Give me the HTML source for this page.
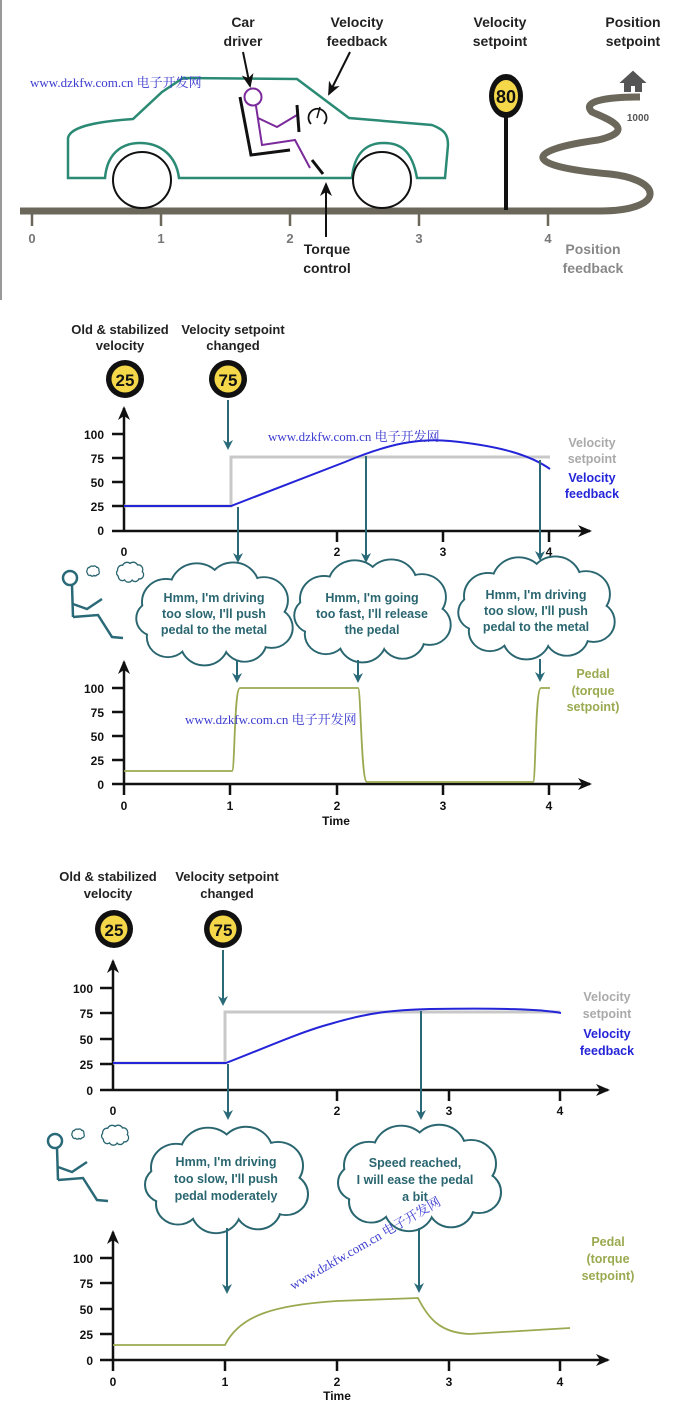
<!DOCTYPE html>
<html><head><meta charset="utf-8"><style>
html,body{margin:0;padding:0;background:#fff}
svg{display:block}
text{font-family:"Liberation Sans","Noto Sans CJK SC",sans-serif}
.lb{font-size:14px;font-weight:bold;fill:#222;text-anchor:middle}
.tk{font-size:12px;font-weight:bold;fill:#111;text-anchor:middle}
.yt{font-size:12px;font-weight:bold;fill:#111;text-anchor:end}
.ct{font-size:12.5px;font-weight:bold;fill:#2a6670;text-anchor:middle}
.wm{font-family:"Liberation Serif","Noto Serif CJK SC",serif;font-size:13px;fill:#3b3bd0}
</style></head><body>
<svg width="680" height="1407" viewBox="0 0 680 1407" xmlns="http://www.w3.org/2000/svg">
<defs>
<marker id="ah" markerWidth="10" markerHeight="10" refX="8" refY="5" orient="auto" markerUnits="userSpaceOnUse"><path d="M0,0 L10,5 L0,10 L3,5 Z" fill="#2a6a78"/></marker>
<marker id="ak" markerWidth="14" markerHeight="12" refX="12" refY="6" orient="auto" markerUnits="userSpaceOnUse"><path d="M0,0 L14,6 L0,12 L4,6 Z" fill="#111"/></marker>
<g id="cb">
<circle cx="-50" cy="-12" r="24"/><circle cx="-18" cy="-26" r="27"/><circle cx="20" cy="-28" r="26"/><circle cx="52" cy="-14" r="24"/><circle cx="60" cy="16" r="21"/><circle cx="32" cy="30" r="22"/><circle cx="-10" cy="32" r="24"/><circle cx="-48" cy="26" r="21"/><circle cx="-62" cy="6" r="18"/><ellipse cx="0" cy="2" rx="60" ry="30"/>
</g>
<g id="cloud"><use href="#cb" fill="none" stroke="#2a6670" stroke-width="4"/><use href="#cb" fill="#fff" stroke="none"/></g>
<g id="cloudA"><use href="#cb" fill="none" stroke="#2a6670" stroke-width="36"/><use href="#cb" fill="#fff" stroke="none"/></g>
<g id="cloudB"><use href="#cb" fill="none" stroke="#2a6670" stroke-width="16"/><use href="#cb" fill="#fff" stroke="none"/></g>
<g id="man">
<g fill="none" stroke="#2a6a78" stroke-width="2.5">
<circle cx="0" cy="0" r="7"/><path d="M2,7 L3,39 M3,26 L17,31 L32,21 M3,39 L28,37 L42,59 L53,60"/>
</g>
<use href="#cloudA" transform="translate(23,-7) scale(0.07,0.08)"/>
<use href="#cloudB" transform="translate(60,-6) scale(0.16,0.17)"/>
</g>
</defs>
<rect x="0" y="0" width="2" height="300" fill="#999"/>

<!-- TOP -->
<text class="lb" x="243" y="27">Car</text><text class="lb" x="243" y="46">driver</text>
<text class="lb" x="357" y="27">Velocity</text><text class="lb" x="357" y="46">feedback</text>
<text class="lb" x="500" y="27">Velocity</text><text class="lb" x="500" y="46">setpoint</text>
<text class="lb" x="633" y="27">Position</text><text class="lb" x="633" y="46">setpoint</text>
<path d="M20,211 L600,211 C665,211 665,180 610,174 C520,166 525,150 598,140 C640,130 605,118 592,112 C580,100 612,97 640,97" fill="none" stroke="#6b675a" stroke-width="7"/>
<g stroke="#6b675a" stroke-width="2.5"><line x1="32" y1="212" x2="32" y2="226"/><line x1="161" y1="212" x2="161" y2="226"/><line x1="290" y1="212" x2="290" y2="226"/><line x1="419" y1="212" x2="419" y2="226"/><line x1="548" y1="212" x2="548" y2="226"/></g>
<g class="tk" style="fill:#777;font-size:13px"><text x="32" y="243">0</text><text x="161" y="243">1</text><text x="290" y="243">2</text><text x="419" y="243">3</text><text x="548" y="243">4</text></g>
<path d="M68,178 L68,138 C70,128 90,122 133,119 L162,92 L183,78 L297,79 L349,118 L432,125 C445,130 448,135 448,145 L445,178 L417,178 C412,150 400,143 384,143 C365,143 354,155 352,178 L179,178 C176,155 160,143 140,143 C120,143 107,155 105,178 Z" fill="none" stroke="#2a8a74" stroke-width="2.5"/>
<ellipse cx="142" cy="180" rx="29" ry="28" fill="#fff" stroke="#111" stroke-width="2"/>
<ellipse cx="382" cy="180" rx="29" ry="28" fill="#fff" stroke="#111" stroke-width="2"/>
<path d="M240,97 L251,155 L290,150" fill="none" stroke="#111" stroke-width="3"/>
<circle cx="253" cy="97" r="8.5" fill="none" stroke="#7a2a9a" stroke-width="2"/>
<path d="M256,106 L262,145 L295,140 L310,168 M258,118 L277,127 L297,115" fill="none" stroke="#7a2a9a" stroke-width="2"/>
<line x1="297" y1="105" x2="299" y2="132" stroke="#111" stroke-width="3"/>
<line x1="312" y1="160" x2="323" y2="174" stroke="#111" stroke-width="3"/>
<path d="M311,124 A9,9 0 1 1 324,124" fill="none" stroke="#111" stroke-width="1.8"/>
<line x1="317" y1="118" x2="320" y2="107" stroke="#111" stroke-width="1.5"/>
<line x1="243" y1="52" x2="250" y2="86" stroke="#111" stroke-width="2" marker-end="url(#ak)"/>
<line x1="350" y1="52" x2="329" y2="94" stroke="#111" stroke-width="2" marker-end="url(#ak)"/>
<line x1="326" y1="237" x2="326" y2="184" stroke="#111" stroke-width="2" marker-end="url(#ak)"/>
<text class="lb" x="327" y="254">Torque</text><text class="lb" x="327" y="273">control</text>
<line x1="506" y1="110" x2="506" y2="210" stroke="#111" stroke-width="4"/>
<ellipse cx="506" cy="96" rx="17" ry="22" fill="#111"/><ellipse cx="506" cy="96" rx="12" ry="16" fill="#f5d84a"/>
<text x="506" y="103" style="font-size:18px;font-weight:bold;text-anchor:middle;fill:#111">80</text>
<path d="M622,82 L633,72 L644,82 Z M625,82 L625,91 L630,91 L630,85 L636,85 L636,91 L641,91 L641,82" fill="#555" stroke="#555" stroke-width="2"/>
<text x="638" y="121" style="font-size:10px;font-weight:bold;fill:#555;text-anchor:middle">1000</text>
<text class="lb" x="593" y="254" style="fill:#888">Position</text><text class="lb" x="593" y="273" style="fill:#888">feedback</text>
<text class="wm" x="30" y="87">www.dzkfw.com.cn 电子开发网</text>

<!-- MIDDLE -->
<text class="lb" x="120" y="334" style="font-size:13px">Old &amp; stabilized</text><text class="lb" x="120" y="350" style="font-size:13px">velocity</text>
<text class="lb" x="233" y="334" style="font-size:13px">Velocity setpoint</text><text class="lb" x="233" y="350" style="font-size:13px">changed</text>
<circle cx="125" cy="379" r="19" fill="#111"/><circle cx="125" cy="379" r="13.5" fill="#f5d84a"/><text x="125" y="386" style="font-size:17px;font-weight:bold;text-anchor:middle;fill:#111">25</text>
<circle cx="228" cy="379" r="19" fill="#111"/><circle cx="228" cy="379" r="13.5" fill="#f5d84a"/><text x="228" y="386" style="font-size:17px;font-weight:bold;text-anchor:middle;fill:#111">75</text>
<line x1="228" y1="400" x2="228" y2="448" stroke="#2a6a78" stroke-width="2" marker-end="url(#ah)"/>
<g stroke="#111" stroke-width="2.5" fill="none"><line x1="124" y1="531" x2="124" y2="408" marker-end="url(#ak)"/><line x1="112" y1="531" x2="590" y2="531" marker-end="url(#ak)"/>
<path d="M112,434H124M112,458H124M112,482H124M112,506H124M337,531V542M443,531V542M549,531V542"/></g>
<g class="yt"><text x="104" y="439">100</text><text x="104" y="463">75</text><text x="104" y="487">50</text><text x="104" y="511">25</text><text x="104" y="535">0</text></g>
<g class="tk"><text x="124" y="556">0</text><text x="337" y="556">2</text><text x="443" y="556">3</text><text x="549" y="556">4</text></g>
<path d="M124,506 L231,506 L231,457 L550,457" fill="none" stroke="#c8c8c8" stroke-width="3"/>
<path d="M124,506 L231,506 L345,462 C390,443 420,438 450,441 C500,446 530,455 550,469" fill="none" stroke="#2424d8" stroke-width="2"/>
<g stroke="#2a6a78" stroke-width="2" marker-end="url(#ah)"><line x1="238" y1="507" x2="238" y2="561"/><line x1="366" y1="456" x2="366" y2="561"/><line x1="540" y1="460" x2="540" y2="559"/></g>
<text class="lb" x="592" y="447" style="fill:#aaa;font-size:12.5px">Velocity</text><text class="lb" x="592" y="463" style="fill:#aaa;font-size:12.5px">setpoint</text>
<text class="lb" x="592" y="482" style="fill:#2424d8;font-size:12.5px">Velocity</text><text class="lb" x="592" y="498" style="fill:#2424d8;font-size:12.5px">feedback</text>
<use href="#man" x="70" y="578"/>
<use href="#cloud" transform="translate(214,613) scale(0.96,0.92)"/>
<use href="#cloud" transform="translate(372,610) scale(0.96,0.92)"/>
<use href="#cloud" transform="translate(536,607) scale(0.96,0.92)"/>
<text class="ct" x="214" y="602">Hmm, I'm driving</text><text class="ct" x="214" y="618">too slow, I'll push</text><text class="ct" x="214" y="634">pedal to the metal</text>
<text class="ct" x="372" y="602">Hmm, I'm going</text><text class="ct" x="372" y="618">too fast, I'll release</text><text class="ct" x="372" y="634">the pedal</text>
<text class="ct" x="536" y="599">Hmm, I'm driving</text><text class="ct" x="536" y="615">too slow, I'll push</text><text class="ct" x="536" y="631">pedal to the metal</text>
<g stroke="#2a6a78" stroke-width="2" marker-end="url(#ah)"><line x1="237" y1="660" x2="237" y2="681"/><line x1="358" y1="660" x2="358" y2="681"/><line x1="540" y1="659" x2="540" y2="680"/></g>
<g stroke="#111" stroke-width="2.5" fill="none"><line x1="124" y1="785" x2="124" y2="662" marker-end="url(#ak)"/><line x1="112" y1="784" x2="590" y2="784" marker-end="url(#ak)"/>
<path d="M112,688H124M112,712H124M112,736H124M112,760H124M230,784V795M337,784V795M443,784V795M549,784V795M124,784V795"/></g>
<g class="yt"><text x="104" y="693">100</text><text x="104" y="717">75</text><text x="104" y="741">50</text><text x="104" y="765">25</text><text x="104" y="789">0</text></g>
<g class="tk"><text x="124" y="810">0</text><text x="230" y="810">1</text><text x="337" y="810">2</text><text x="443" y="810">3</text><text x="549" y="810">4</text><text x="336" y="825">Time</text></g>
<path d="M124,771 L232,771 C235,771 234,688 240,688 L358,688 C361,688 361,782 367,782 L533,782 C536,782 535,688 541,688 L550,688" fill="none" stroke="#9aaa50" stroke-width="1.8"/>
<text class="lb" x="593" y="678" style="fill:#9aaa50;font-size:12.5px">Pedal</text><text class="lb" x="593" y="695" style="fill:#9aaa50;font-size:12.5px">(torque</text><text class="lb" x="593" y="711" style="fill:#9aaa50;font-size:12.5px">setpoint)</text>
<text class="wm" x="268" y="441">www.dzkfw.com.cn 电子开发网</text>
<text class="wm" x="185" y="724">www.dzkfw.com.cn 电子开发网</text>

<!-- BOTTOM -->
<text class="lb" x="108" y="881" style="font-size:13px">Old &amp; stabilized</text><text class="lb" x="108" y="898" style="font-size:13px">velocity</text>
<text class="lb" x="227" y="881" style="font-size:13px">Velocity setpoint</text><text class="lb" x="227" y="898" style="font-size:13px">changed</text>
<circle cx="114" cy="929" r="19" fill="#111"/><circle cx="114" cy="929" r="13.5" fill="#f5d84a"/><text x="114" y="936" style="font-size:17px;font-weight:bold;text-anchor:middle;fill:#111">25</text>
<circle cx="223" cy="929" r="19" fill="#111"/><circle cx="223" cy="929" r="13.5" fill="#f5d84a"/><text x="223" y="936" style="font-size:17px;font-weight:bold;text-anchor:middle;fill:#111">75</text>
<line x1="223" y1="950" x2="223" y2="1004" stroke="#2a6a78" stroke-width="2" marker-end="url(#ah)"/>
<g stroke="#111" stroke-width="2.5" fill="none"><line x1="113" y1="1090" x2="113" y2="961" marker-end="url(#ak)"/><line x1="100" y1="1090" x2="608" y2="1090" marker-end="url(#ak)"/>
<path d="M100,988H113M100,1013H113M100,1039H113M100,1064H113M337,1090V1101M449,1090V1101M560,1090V1101"/></g>
<g class="yt"><text x="93" y="993">100</text><text x="93" y="1018">75</text><text x="93" y="1044">50</text><text x="93" y="1069">25</text><text x="93" y="1095">0</text></g>
<g class="tk"><text x="113" y="1115">0</text><text x="337" y="1115">2</text><text x="449" y="1115">3</text><text x="560" y="1115">4</text></g>
<path d="M113,1063 L225,1063 L225,1012 L560,1012" fill="none" stroke="#c8c8c8" stroke-width="3"/>
<path d="M113,1063 L226,1063 C260,1050 300,1032 330,1024 C370,1012 395,1010 430,1009 C500,1008 540,1009 561,1013" fill="none" stroke="#2424d8" stroke-width="2"/>
<g stroke="#2a6a78" stroke-width="2" marker-end="url(#ah)"><line x1="228" y1="1064" x2="228" y2="1118"/><line x1="421" y1="1011" x2="421" y2="1118"/></g>
<text class="lb" x="607" y="1001" style="fill:#aaa;font-size:12.5px">Velocity</text><text class="lb" x="607" y="1018" style="fill:#aaa;font-size:12.5px">setpoint</text>
<text class="lb" x="607" y="1038" style="fill:#2424d8;font-size:12.5px">Velocity</text><text class="lb" x="607" y="1055" style="fill:#2424d8;font-size:12.5px">feedback</text>
<use href="#man" x="55" y="1141"/>
<use href="#cloud" transform="translate(226,1179) scale(1,0.95)"/>
<use href="#cloud" transform="translate(419,1177) scale(1,0.95)"/>
<text class="ct" x="226" y="1166">Hmm, I'm driving</text><text class="ct" x="226" y="1183">too slow, I'll push</text><text class="ct" x="226" y="1200">pedal moderately</text>
<text class="ct" x="415" y="1167">Speed reached,</text><text class="ct" x="415" y="1184">I will ease the pedal</text><text class="ct" x="415" y="1201">a bit</text>
<g stroke="#2a6a78" stroke-width="2" marker-end="url(#ah)"><line x1="227" y1="1228" x2="227" y2="1292"/><line x1="419" y1="1228" x2="419" y2="1291"/></g>
<g stroke="#111" stroke-width="2.5" fill="none"><line x1="113" y1="1361" x2="113" y2="1232" marker-end="url(#ak)"/><line x1="100" y1="1360" x2="608" y2="1360" marker-end="url(#ak)"/>
<path d="M100,1258H113M100,1283H113M100,1309H113M100,1334H113M113,1360V1371M225,1360V1371M337,1360V1371M449,1360V1371M560,1360V1371"/></g>
<g class="yt"><text x="93" y="1263">100</text><text x="93" y="1288">75</text><text x="93" y="1314">50</text><text x="93" y="1339">25</text><text x="93" y="1365">0</text></g>
<g class="tk"><text x="113" y="1386">0</text><text x="225" y="1386">1</text><text x="337" y="1386">2</text><text x="449" y="1386">3</text><text x="560" y="1386">4</text><text x="337" y="1400">Time</text></g>
<path d="M113,1345 L225,1345 C240,1315 275,1305 337,1301 L418,1298 C428,1318 440,1333 470,1334 L570,1328" fill="none" stroke="#9aaa50" stroke-width="1.8"/>
<text class="lb" x="608" y="1246" style="fill:#9aaa50;font-size:12.5px">Pedal</text><text class="lb" x="608" y="1263" style="fill:#9aaa50;font-size:12.5px">(torque</text><text class="lb" x="608" y="1280" style="fill:#9aaa50;font-size:12.5px">setpoint)</text>
<text class="wm" transform="translate(293,1290) rotate(-30)">www.dzkfw.com.cn 电子开发网</text>
</svg>
</body></html>
